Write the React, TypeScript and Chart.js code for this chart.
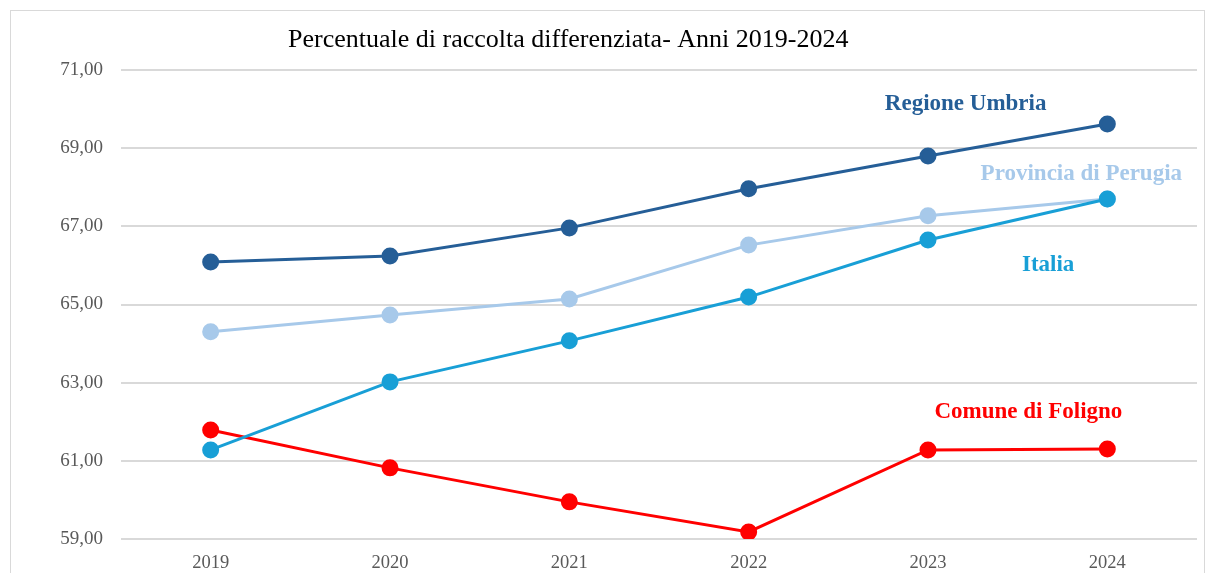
import React, { useEffect, useRef } from "react";
import { Chart, registerables } from "chart.js";

Chart.register(...registerables);

const years = ["2019", "2020", "2021", "2022", "2023", "2024"];
const regioneUmbria = [66.09, 66.24, 66.96, 67.96, 68.8, 69.62];
const provinciaPerugia = [64.3, 64.73, 65.14, 66.52, 67.27, 67.7];
const italia = [61.28, 63.02, 64.07, 65.19, 66.65, 67.7];
const comuneFoligno = [61.79, 60.82, 59.95, 59.18, 61.28, 61.3];

const titleText = "Percentuale di raccolta differenziata- Anni 2019-2024";
const seriesNames = ["Regione Umbria", "Provincia di Perugia", "Italia", "Comune di Foligno"];
const seriesColors = ["#255E97", "#A7C9EA", "#189FD6", "#FF0000"];
const seriesOrder = [0, 2, 1, 3];
// label anchors in data coordinates (category index, value)
const labelAnchorX = [4.21, 4.855, 4.67, 4.56];
const labelAnchorY = [70.13, 68.34, 66.01, 62.25];

const SERIF = '"Liberation Serif", "DejaVu Serif", serif';

const annotationPlugin = {
  id: "seriesLabels",
  afterDraw(chart: any) {
    const ctx = chart.ctx;
    const xs = chart.scales.x;
    const ys = chart.scales.y;
    ctx.save();
    ctx.textBaseline = "middle";
    // title
    ctx.fillStyle = "#000000";
    ctx.font = `26px ${SERIF}`;
    ctx.textAlign = "left";
    ctx.fillText(titleText, 288, 40);
    // series labels
    ctx.textAlign = "center";
    ctx.font = `bold 23px ${SERIF}`;
    seriesNames.forEach((name, i) => {
      const x0 = xs.getPixelForValue(Math.floor(labelAnchorX[i]));
      const x1 = xs.getPixelForValue(Math.floor(labelAnchorX[i]) + 1);
      const frac = labelAnchorX[i] - Math.floor(labelAnchorX[i]);
      const px = x0 + (x1 - x0) * frac;
      const py = ys.getPixelForValue(labelAnchorY[i]);
      ctx.fillStyle = seriesColors[i];
      ctx.fillText(name, px, py);
    });
    ctx.restore();
  },
};

export default function App() {
  const ref = useRef<HTMLCanvasElement>(null);
  useEffect(() => {
    document.body.style.margin = "0";
    const data = [regioneUmbria, provinciaPerugia, italia, comuneFoligno];
    const chart = new Chart(ref.current!, {
      type: "line",
      data: {
        labels: years,
        datasets: data.map((d, i) => ({
          label: seriesNames[i],
          data: d,
          order: seriesOrder[i],
          borderColor: seriesColors[i],
          backgroundColor: seriesColors[i],
          pointBackgroundColor: seriesColors[i],
          pointBorderColor: seriesColors[i],
          borderWidth: 3,
          pointRadius: 7,
          pointHoverRadius: 7,
          tension: 0,
          fill: false,
        })),
      },
      options: {
        animation: false,
        responsive: false,
        maintainAspectRatio: false,
        layout: { padding: { top: 70, right: 7, left: 0, bottom: 0 } },
        plugins: {
          legend: { display: false },
          title: { display: false },
          tooltip: { enabled: false },
        },
        scales: {
          x: {
            offset: true,
            grid: { display: false, drawTicks: false },
            border: { display: false },
            ticks: {
              color: "#595959",
              font: { family: SERIF, size: 18.5 },
              padding: 13,
              maxRotation: 0,
            },
            afterFit(scale: any) {
              scale.height = 34;
            },
          },
          y: {
            min: 59,
            max: 71,
            grid: { color: "#D9D9D9", lineWidth: 2, drawTicks: false },
            border: { display: false },
            ticks: {
              stepSize: 2,
              color: "#595959",
              font: { family: SERIF, size: 19 },
              padding: 18,
              callback: (v: any) => Number(v).toFixed(2).replace(".", ","),
            },
            afterFit(scale: any) {
              scale.width = 121;
            },
          },
        },
      },
      plugins: [annotationPlugin],
    });
    return () => chart.destroy();
  }, []);
  return (
    <div style={{ position: "relative", width: 1207, height: 573, background: "#fff", overflow: "hidden" }}>
      <div
        style={{
          position: "absolute",
          left: 10,
          top: 10,
          width: 1195,
          height: 600,
          border: "1px solid #D9D9D9",
          boxSizing: "border-box",
        }}
      />
      <canvas ref={ref} width={1207} height={573} style={{ position: "absolute", left: 0, top: 0 }} />
    </div>
  );
}
